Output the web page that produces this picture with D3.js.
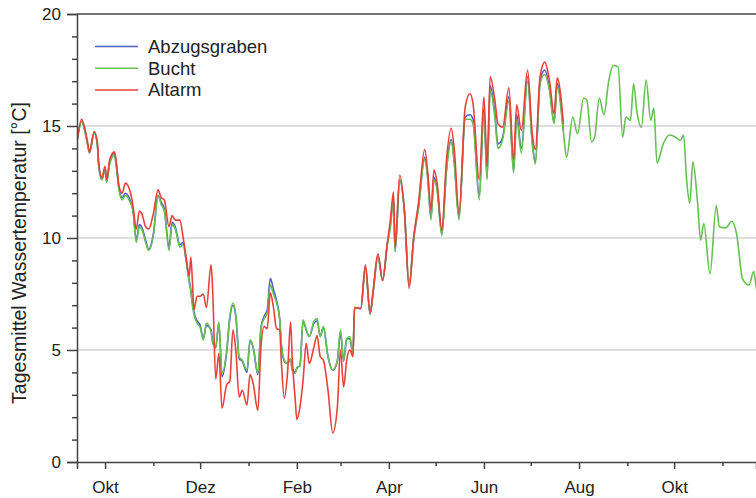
<!DOCTYPE html>
<html>
<head>
<meta charset="utf-8">
<script src="https://cdn.jsdelivr.net/npm/d3@7"></script>
<style>
  body { margin: 0; background: #fff; }
  text { font-family: "Liberation Sans", Arial, sans-serif; fill: #222; }
</style>
</head>
<body>
<div id="chart"></div>
<script>
// Tage relativ zum 1. Oktober (gemeinsamer Zeitraum aller drei Messstellen)
var tage = [-18,-15,-13,-11,-10,-7,-5,-4,-2,0,1,3,6,7,9,11,13,16,18,20,
  22,24,26,28,31,34,36,38,41,43,45,48,50,52,54,55,56,57,59,61,
  63,65,68,69,71,73,75,78,80,82,84,86,88,91,93,95,98,100,102,104,
  106,108,110,112,113,115,117,119,120,122,123,125,127,129,131,134,136,138,140,143,
  146,149,151,153,155,157,159,160,164,167,170,172,175,178,181,183,185,186,189,192,
  195,198,201,205,207,209,211,213,216,219,222,224,227,231,234,236,240,243,245,247,
  250,252,255,259,262,264,267,271,274,276,279,282,285,288,290,294];

var altarm = [14.3,15.3,14.9,14.2,13.85,14.75,14.3,13.3,12.7,13.2,12.6,13.5,13.85,13.5,12.3,12.0,12.45,12.1,11.4,10.4,
  11.2,11.0,10.5,10.4,11.1,12.15,11.8,11.7,10.5,11.0,10.8,10.8,10.05,9.15,8.3,9.15,8.1,6.8,7.4,7.4,
  7.5,6.9,8.8,7.7,3.7,4.85,2.4,3.45,3.6,5.9,4.85,2.9,3.2,2.55,3.9,3.5,2.3,5.15,6.05,5.95,
  7.55,6.9,5.95,5.9,4.55,2.85,3.95,6.25,4.7,2.75,1.9,2.45,3.65,5.3,4.4,5.15,5.65,4.7,4.55,3.2,
  1.3,2.45,5.0,3.35,4.55,5.0,4.7,6.9,6.85,8.8,6.65,7.7,9.3,8.1,9.75,10.8,12.05,9.6,12.8,11.25,
  7.75,10.05,11.55,13.95,12.9,11.25,13.05,12.45,10.35,13.5,14.9,13.95,11.1,15.85,16.45,16.0,12.6,16.3,13.2,17.2,
  16.15,15.1,14.95,16.7,13.5,15.95,14.8,17.5,14.65,13.95,17.2,17.85,17.05,15.55,17.15,15.1];

var bucht = [14.3,15.2,14.8,14.1,13.8,14.7,14.2,13.2,12.6,13.1,12.5,13.3,13.7,13.3,12.1,11.7,11.9,11.6,11.2,9.8,
  10.5,10.3,9.8,9.45,10.1,11.9,11.5,11.2,9.45,10.6,10.4,9.6,9.7,9.0,8.0,7.6,7.0,6.6,6.2,6.0,
  5.45,6.2,5.8,5.3,5.15,6.25,3.95,5.0,6.5,7.1,6.5,4.7,4.55,4.1,5.45,5.15,3.95,6.0,6.4,6.65,
  7.9,7.5,7.1,6.35,5.3,4.55,4.4,4.6,4.1,3.95,4.2,4.3,6.35,5.9,5.6,6.3,6.4,5.6,6.05,4.7,
  4.1,4.55,5.9,4.55,5.5,5.6,4.8,6.9,6.85,8.7,6.6,7.6,9.2,8.1,9.7,10.5,11.7,9.4,12.6,11.2,
  7.9,10.0,11.3,13.5,12.6,10.8,12.6,12.1,10.1,13.0,14.3,13.3,10.8,15.3,15.3,15.1,11.7,15.6,12.6,16.6,
  15.4,14.0,14.4,16.1,12.9,15.3,13.8,17.0,14.2,13.3,16.9,17.3,16.6,15.1,16.8,14.7];

var abzugsgraben = [14.3,15.2,14.8,14.1,13.8,14.7,14.2,13.2,12.6,13.1,12.5,13.4,13.8,13.4,12.2,11.8,12.0,11.7,11.2,9.9,
  10.6,10.4,9.9,9.5,10.2,11.9,11.6,11.3,9.6,10.7,10.5,9.7,9.8,9.0,8.1,7.7,7.1,6.7,6.3,6.1,
  5.5,6.1,5.9,5.4,5.1,6.2,3.8,4.9,6.4,7.0,6.4,4.6,4.5,4.0,5.4,5.1,3.9,6.0,6.5,6.8,
  8.2,7.7,7.2,6.4,5.3,4.5,4.4,4.6,4.2,4.0,4.2,4.3,6.3,5.9,5.6,6.2,6.3,5.6,6.0,4.7,
  4.1,4.5,5.8,4.5,5.5,5.5,4.8,6.9,6.85,8.7,6.6,7.6,9.2,8.1,9.7,10.6,11.8,9.4,12.6,11.2,
  7.9,10.0,11.4,13.6,12.7,10.9,12.7,12.2,10.2,13.1,14.4,13.4,10.9,15.4,15.5,15.3,11.9,15.8,12.7,16.8,
  15.6,14.2,14.5,16.3,13.0,15.5,14.0,17.2,14.3,13.4,17.0,17.5,16.7,15.2,16.9,14.8];

// nur die Bucht wurde danach weiter gemessen
var tageBuchtRest = [296,300,303,307,309,312,314,317,320,323,326,329,332,334,337,339,341,344,347,350,
  352,354,358,362,366,369,371,373,375,377,380,382,384,388,392,394,398,402,405,409,
  413,416,418,421];
var buchtRest = [13.6,15.4,14.65,16.25,16.15,14.3,14.5,16.25,15.5,17.0,17.7,17.65,14.5,15.4,15.25,16.9,15.7,14.95,17.05,15.25,
  15.8,13.35,14.2,14.6,14.5,14.35,14.6,12.6,11.55,13.4,11.6,9.9,10.65,8.4,11.45,10.5,10.45,10.75,10.2,8.15,
  7.9,8.5,7.7,7.5];

var monatsNamen = ["Jan","Feb","Mär","Apr","Mai","Jun","Jul","Aug","Sep","Okt","Nov","Dez"];
var yLabels = [0, 5, 10, 15, 20];
var serienNamen = ["Abzugsgraben", "Bucht", "Altarm"];
var farben = ["#4f5fc4", "#66c052", "#e8413a"];

// set the dimensions and margins of the graph
var margin = {top: 14, right: 0, bottom: 36, left: 77},
    width = 756 - margin.left - margin.right,
    height = 498 - margin.top - margin.bottom;

var basis = Date.UTC(2009, 9, 1);
function datum(t) { return new Date(basis + t * 864e5); }

var svg = d3.select("#chart")
  .append("svg")
    .attr("width", width + margin.left + margin.right)
    .attr("height", height + margin.top + margin.bottom)
  .append("g")
    .attr("transform", "translate(" + margin.left + "," + margin.top + ")");

var x = d3.scaleUtc()
  .domain([datum(-18), datum(417.5)])
  .range([0, width]);

var y = d3.scaleLinear()
  .domain([0, 20])
  .range([height, 0]);

// grid lines
svg.selectAll(".grid")
  .data([5, 10, 15])
  .enter().append("line")
    .attr("x1", 0).attr("x2", width)
    .attr("y1", function(d) { return y(d); })
    .attr("y2", function(d) { return y(d); })
    .attr("stroke", "#d4d4d4")
    .attr("stroke-width", 1.5);

// series
var serien = [
  {name: serienNamen[0], farbe: farben[0], tage: tage, werte: abzugsgraben},
  {name: serienNamen[1], farbe: farben[1], tage: tage.concat(tageBuchtRest), werte: bucht.concat(buchtRest)},
  {name: serienNamen[2], farbe: farben[2], tage: tage, werte: altarm}
];

svg.append("clipPath").attr("id", "clip")
  .append("rect").attr("width", width).attr("height", height);

var line = d3.line()
  .curve(d3.curveMonotoneX)
  .x(function(d) { return x(datum(d[0])); })
  .y(function(d) { return y(d[1]); });

svg.append("g").attr("clip-path", "url(#clip)")
  .selectAll("path")
  .data(serien)
  .enter().append("path")
    .attr("fill", "none")
    .attr("stroke", function(d) { return d.farbe; })
    .attr("stroke-width", 1.6)
    .attr("stroke-linejoin", "round")
    .attr("d", function(s) { return line(d3.zip(s.tage, s.werte)); });

// x axis: months, labels every second month
var monate = d3.utcMonth.range(datum(-18), datum(418));
var major = monate.filter(function(m) { return m.getUTCMonth() % 2 == 1; });
var minor = monate.filter(function(m) { return m.getUTCMonth() % 2 == 0; });

svg.append("g")
  .attr("transform", "translate(0," + height + ")")
  .call(d3.axisBottom(x).tickValues(minor).tickSize(4).tickFormat(""))
  .call(function(g) { g.select(".domain").remove(); });

var xAxis = svg.append("g")
  .attr("transform", "translate(0," + height + ")")
  .call(d3.axisBottom(x).tickValues(major).tickSize(7).tickPadding(12)
    .tickFormat(function(d) { return monatsNamen[d.getUTCMonth()]; }));
xAxis.selectAll("text").style("font-size", "17px");

// y axis
var yMinor = d3.range(1, 20).filter(function(v) { return v % 5 != 0; });
svg.append("g")
  .call(d3.axisLeft(y).tickValues(yMinor).tickSize(5).tickFormat(""))
  .call(function(g) { g.select(".domain").remove(); });

var yAxis = svg.append("g")
  .call(d3.axisLeft(y).tickValues(yLabels).tickSize(10).tickPadding(6));
yAxis.selectAll("text").style("font-size", "17px");

svg.selectAll(".domain, .tick line").attr("stroke", "#444").attr("stroke-width", 1.5);

// top frame line
svg.append("line")
  .attr("x1", 0).attr("x2", width)
  .attr("y1", 0).attr("y2", 0)
  .attr("stroke", "#444")
  .attr("stroke-width", 1.5);

// y label
svg.append("text")
  .attr("text-anchor", "middle")
  .attr("transform", "translate(" + (19 - margin.left) + "," + (253 - margin.top) + ") rotate(-90)")
  .attr("dy", "0.35em")
  .style("font-size", "19.5px")
  .text("Tagesmittel Wassertemperatur [°C]");

// legend
var legend = svg.selectAll(".legend")
  .data(serien)
  .enter().append("g")
    .attr("transform", function(d, i) { return "translate(" + (95 - margin.left) + "," + (46.5 + i * 21.7 - margin.top) + ")"; });

legend.append("line")
  .attr("x1", 0).attr("x2", 43)
  .attr("stroke", function(d) { return d.farbe; })
  .attr("stroke-width", 1.5);

legend.append("text")
  .attr("x", 53)
  .attr("dy", "0.35em")
  .style("font-size", "18.5px")
  .text(function(d) { return d.name; });
</script>
</body>
</html>
